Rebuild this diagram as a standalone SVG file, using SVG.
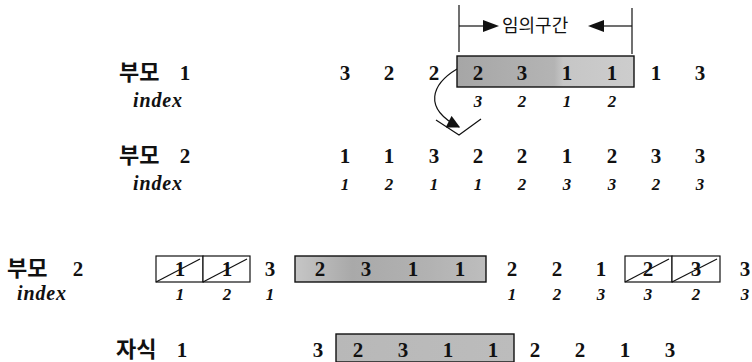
<svg xmlns="http://www.w3.org/2000/svg" width="752" height="362" viewBox="0 0 752 362">
<style>
.d{font-family:"Liberation Serif",serif;font-weight:bold;font-size:21px;text-anchor:middle;fill:#111}
.i{font-family:"Liberation Serif",serif;font-style:italic;font-weight:bold;font-size:17px;text-anchor:middle;fill:#111}
.k{font-family:"Noto Sans CJK KR",sans-serif;font-weight:bold;font-size:22px;fill:#111}
.x{font-family:"Liberation Serif",serif;font-style:italic;font-weight:bold;font-size:20px;fill:#111}
.t{font-family:"Noto Sans CJK KR",sans-serif;font-size:18px;fill:#111}
.gb{stroke:#111;stroke-width:1.4}
.wb{fill:#fff;stroke:#111;stroke-width:1.2}
.ln{stroke:#111;stroke-width:1.2;fill:none}
</style>
<defs>
<linearGradient id="g1" x1="0" x2="1" y1="0" y2="0">
<stop offset="0" stop-color="#a6a6a6"/><stop offset="0.55" stop-color="#b4b4b4"/><stop offset="0.6" stop-color="#c6c6c6"/><stop offset="1" stop-color="#cdcdcd"/>
</linearGradient>
<linearGradient id="g2" x1="0" x2="1" y1="0" y2="0">
<stop offset="0" stop-color="#c6c6c6"/><stop offset="0.3" stop-color="#a9a9a9"/><stop offset="0.7" stop-color="#b2b2b2"/><stop offset="1" stop-color="#bdbdbd"/>
</linearGradient>
<linearGradient id="g3" x1="0" x2="1" y1="0" y2="0">
<stop offset="0" stop-color="#b8b8b8"/><stop offset="1" stop-color="#bcbcbc"/>
</linearGradient>
<marker id="ah" viewBox="0 0 10 10" refX="9" refY="5" markerWidth="15" markerHeight="13" orient="auto" markerUnits="userSpaceOnUse">
<path d="M0,0 L10,5 L0,10 z" fill="#111"/>
</marker>
</defs>

<g id="connectors">
<line class="ln" x1="459" y1="5" x2="459" y2="52"/>
<line class="ln" x1="632" y1="8" x2="632" y2="54" stroke-width="1"/>
<line class="ln" x1="459" y1="26" x2="486" y2="26"/>
<polygon points="483,20 499,26 483,32" fill="#111"/>
<line class="ln" x1="600" y1="26" x2="632" y2="26"/>
<polygon points="604,20 588,26 604,32" fill="#111"/>
<path class="ln" d="M457,69 C432,84 422,108 459,127" marker-end="url(#ah)"/>
<polyline class="ln" points="436,120 459,135 481,119"/>
</g>

<g id="range-label">
<text class="t" x="502" y="32">임의구간</text>
</g>

<g id="parent1">
<text class="k" x="119" y="80">부모</text>
<text class="d" x="185" y="80">1</text>
<text class="x" x="133" y="107" textLength="49">index</text>
<rect class="gb" fill="url(#g1)" x="457" y="56" width="177" height="31"/>
<text class="d" x="345" y="80">3</text>
<text class="d" x="389" y="80">2</text>
<text class="d" x="434" y="80">2</text>
<text class="d" x="478" y="80">2</text>
<text class="d" x="522" y="80">3</text>
<text class="d" x="567" y="80">1</text>
<text class="d" x="612" y="80">1</text>
<text class="d" x="656" y="80">1</text>
<text class="d" x="700" y="80">3</text>
<text class="i" x="478" y="107">3</text>
<text class="i" x="522" y="107">2</text>
<text class="i" x="567" y="107">1</text>
<text class="i" x="612" y="107">2</text>
</g>

<g id="parent2">
<text class="k" x="119" y="163">부모</text>
<text class="d" x="185" y="163">2</text>
<text class="x" x="133" y="190" textLength="49">index</text>
<text class="d" x="345" y="163">1</text>
<text class="d" x="389" y="163">1</text>
<text class="d" x="434" y="163">3</text>
<text class="d" x="478" y="163">2</text>
<text class="d" x="522" y="163">2</text>
<text class="d" x="567" y="163">1</text>
<text class="d" x="612" y="163">2</text>
<text class="d" x="656" y="163">3</text>
<text class="d" x="700" y="163">3</text>
<text class="i" x="345" y="190">1</text>
<text class="i" x="389" y="190">2</text>
<text class="i" x="434" y="190">1</text>
<text class="i" x="478" y="190">1</text>
<text class="i" x="522" y="190">2</text>
<text class="i" x="567" y="190">3</text>
<text class="i" x="612" y="190">3</text>
<text class="i" x="656" y="190">2</text>
<text class="i" x="700" y="190">3</text>
</g>

<g id="parent2-marked">
<text class="k" x="7" y="276">부모</text>
<text class="d" x="78" y="276">2</text>
<text class="x" x="17" y="300" textLength="49">index</text>
<rect class="wb" x="156" y="256" width="47" height="26"/>
<rect class="wb" x="203" y="256" width="47" height="26"/>
<line class="ln" x1="156" y1="282" x2="200" y2="259"/>
<line class="ln" x1="203" y1="282" x2="247" y2="259"/>
<text class="d" x="180" y="276">1</text>
<text class="d" x="227" y="276">1</text>
<text class="d" x="270" y="276">3</text>
<rect class="gb" fill="url(#g2)" x="295" y="256" width="191" height="26"/>
<text class="d" x="320" y="276">2</text>
<text class="d" x="366" y="276">3</text>
<text class="d" x="413" y="276">1</text>
<text class="d" x="460" y="276">1</text>
<text class="d" x="512" y="276">2</text>
<text class="d" x="557" y="276">2</text>
<text class="d" x="601" y="276">1</text>
<rect class="wb" x="625" y="256" width="47" height="26"/>
<rect class="wb" x="672" y="256" width="48" height="26"/>
<line class="ln" x1="625" y1="282" x2="669" y2="259"/>
<line class="ln" x1="672" y1="282" x2="717" y2="259"/>
<text class="d" x="648" y="276">2</text>
<text class="d" x="696" y="276">3</text>
<text class="d" x="745" y="276">3</text>
<text class="i" x="180" y="300">1</text>
<text class="i" x="227" y="300">2</text>
<text class="i" x="270" y="300">1</text>
<text class="i" x="512" y="300">1</text>
<text class="i" x="557" y="300">2</text>
<text class="i" x="601" y="300">3</text>
<text class="i" x="648" y="300">3</text>
<text class="i" x="696" y="300">2</text>
<text class="i" x="745" y="300">3</text>
</g>

<g id="child1">
<text class="k" x="116" y="357">자식</text>
<text class="d" x="182" y="357">1</text>
<text class="d" x="318" y="357">3</text>
<rect class="gb" fill="url(#g3)" x="336" y="334" width="178" height="28"/>
<text class="d" x="358" y="357">2</text>
<text class="d" x="403" y="357">3</text>
<text class="d" x="448" y="357">1</text>
<text class="d" x="493" y="357">1</text>
<text class="d" x="535" y="357">2</text>
<text class="d" x="580" y="357">2</text>
<text class="d" x="625" y="357">1</text>
<text class="d" x="670" y="357">3</text>
</g>
</svg>
